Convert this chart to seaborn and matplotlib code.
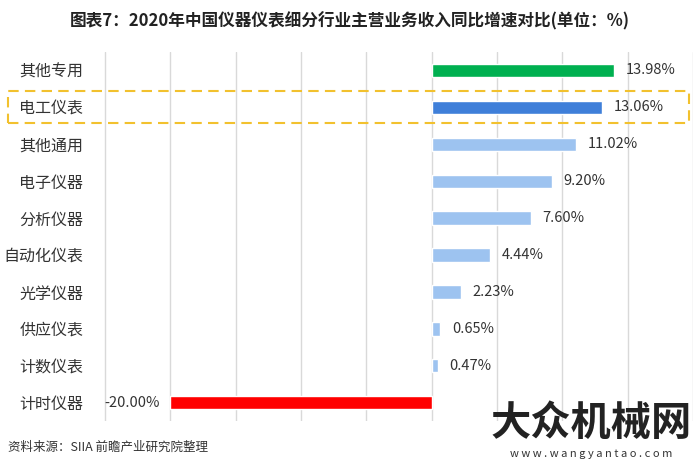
import pandas as pd
import matplotlib.pyplot as plt
import seaborn as sns
from matplotlib.patches import Rectangle

# chart data
categories = ['其他专用', '电工仪表', '其他通用', '电子仪器', '分析仪器',
              '自动化仪表', '光学仪器', '供应仪表', '计数仪表', '计时仪器']
growth = [13.98, 13.06, 11.02, 9.20, 7.60, 4.44, 2.23, 0.65, 0.47, -20.00]
bar_colors = ['#00b050', '#3f7fd9', '#9dc3f0', '#9dc3f0', '#9dc3f0',
              '#9dc3f0', '#9dc3f0', '#9dc3f0', '#9dc3f0', '#ff0000']

df = pd.DataFrame({'category': categories, 'growth': growth})

sns.set_style("white")
plt.rcParams['font.family'] = ['Noto Sans CJK SC', 'DejaVu Sans']

fig = plt.figure(figsize=(7, 4.68), dpi=100)
ax = fig.add_axes([0.147, 0.100, 0.843, 0.789])

sns.barplot(
    data=df,
    x='growth',
    y='category',
    hue='category',
    palette=bar_colors,
    saturation=1,
    orient='h',
    width=0.36,
    legend=False,
    ax=ax
)

ax.set_xlim(-25.15, 20)
ax.set_xticks(range(-25, 21, 5))
ax.xaxis.grid(True, color='#d9d9d9', linewidth=1)
ax.set_axisbelow(True)
ax.tick_params(axis='x', labelbottom=False, length=0)
ax.tick_params(axis='y', length=0, labelsize=11.5, labelcolor='#333333', pad=14)
for s in ax.spines.values():
    s.set_visible(False)
ax.set_xlabel("")
ax.set_ylabel("")

# value labels
for i, v in enumerate(growth):
    if v >= 0:
        ax.text(v + 0.9, i, f"{v:.2f}%", va='center', ha='left',
                fontsize=10.5, color='#333333')
    else:
        ax.text(v - 0.8, i, f"{v:.2f}%", va='center', ha='right',
                fontsize=10.5, color='#333333')

# highlight box around 电工仪表
fig.patches.append(Rectangle(
    (0.012, 0.737), 0.972, 0.069,
    transform=fig.transFigure, fill=False,
    edgecolor='#f2c12e', linestyle=(0, (5, 3)), linewidth=1.5
))

fig.text(0.5, 0.955, "图表7：2020年中国仪器仪表细分行业主营业务收入同比增速对比(单位：%)",
         ha='center', va='center', fontsize=12, fontweight='bold', color='#222222')
fig.text(0.012, 0.045, "资料来源：SIIA 前瞻产业研究院整理",
         ha='left', va='center', fontsize=9, color='#333333')

# site watermark
fig.text(0.845, 0.095, "大众机械网", ha='center', va='center',
         fontsize=29, fontweight='bold', color='#222222')
fig.text(0.845, 0.03, "w w w . w a n g y a n t a o . c o m", ha='center', va='center',
         fontsize=8, color='#333333')

plt.savefig("out.png", dpi=100)
